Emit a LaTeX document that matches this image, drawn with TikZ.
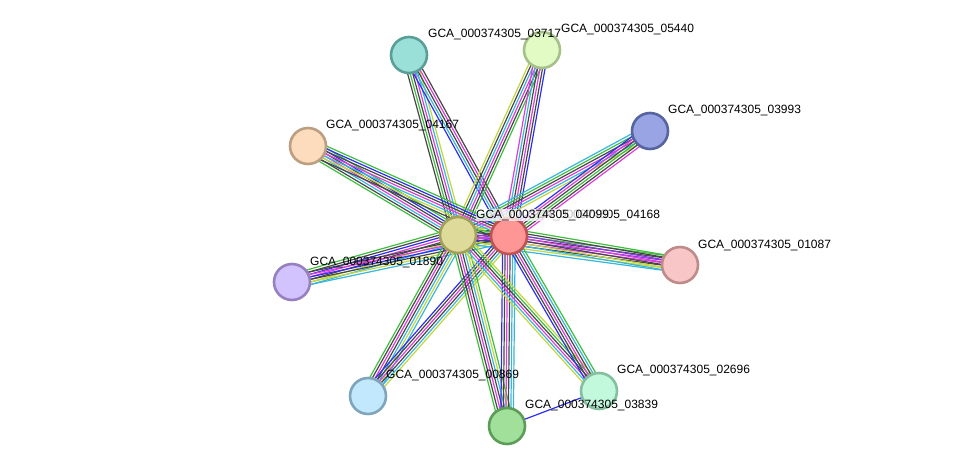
\documentclass[tikz,border=0pt]{standalone}
\usepackage{fontspec}
\setmainfont{Liberation Sans}
\usetikzlibrary{calc}
\pgfdeclarelayer{background}
\pgfsetlayers{background,main}
\definecolor{sgreen}{HTML}{3DBE3D}
\definecolor{sblue}{HTML}{2E2EF2}
\definecolor{smag}{HTML}{DD3DDD}
\definecolor{sdark}{HTML}{474747}
\definecolor{scyan}{HTML}{38B6DC}
\definecolor{syel}{HTML}{C2D73C}
\definecolor{spurp}{HTML}{8A3CE0}
\tikzset{
  x=1pt, y=-1pt,
  prot/.style={circle, minimum size=36pt, inner sep=0pt, line width=2.6pt},
  lbl/.style={anchor=base west, inner sep=0pt, font=\fontsize{12pt}{14pt}\selectfont, text=black},
  edgeline/.style={line width=1.2pt},
}
\newcommand\bundle[4]{%
  \foreach \c [count=\i] in {#4}{%
    \draw[edgeline,\c] let \p1=($(#2.center)-(#1.center)$),
      \n1={atan2(\y1,\x1)+90}, \n2={(\i-(#3+1)/2)*2.5} in
      ($(#1.center)+(\n1:\n2 pt)$) -- ($(#2.center)+(\n1:\n2 pt)$);
  }%
}
\begin{document}
\begin{tikzpicture}
\useasboundingbox (0,0) rectangle (976,471);
% nodes
\node[prot, fill={rgb,255:red,222;green,218;blue,153}, draw={rgb,255:red,163;green,160;blue,90}] (c1) at (458,235) {};
\node[prot, fill={rgb,255:red,255;green,150;blue,150}, draw={rgb,255:red,192;green,82;blue,82}] (c2) at (509,236) {};
\node[prot, fill={rgb,255:red,154;green,224;blue,216}, draw={rgb,255:red,90;green,158;blue,152}] (n03717) at (409,55) {};
\node[prot, fill={rgb,255:red,226;green,250;blue,196}, draw={rgb,255:red,166;green,192;blue,138}] (n05440) at (542,50) {};
\node[prot, fill={rgb,255:red,152;green,164;blue,227}, draw={rgb,255:red,86;green,101;blue,160}] (n03993) at (650,131) {};
\node[prot, fill={rgb,255:red,253;green,219;blue,189}, draw={rgb,255:red,188;green,158;blue,128}] (n04167) at (308,146) {};
\node[prot, fill={rgb,255:red,210;green,194;blue,253}, draw={rgb,255:red,150;green,128;blue,192}] (n01890) at (292,282) {};
\node[prot, fill={rgb,255:red,248;green,198;blue,198}, draw={rgb,255:red,190;green,138;blue,138}] (n01087) at (680,265) {};
\node[prot, fill={rgb,255:red,194;green,232;blue,253}, draw={rgb,255:red,128;green,164;blue,188}] (n00869) at (368,396) {};
\node[prot, fill={rgb,255:red,160;green,224;blue,154}, draw={rgb,255:red,92;green,156;blue,88}] (n03839) at (507,426) {};
\node[prot, fill={rgb,255:red,194;green,248;blue,220}, draw={rgb,255:red,132;green,192;blue,160}] (n02696) at (599,391) {};
% labels
\node[lbl] (l03717) at (428,37.5) {GCA\_000374305\_03717};
\node[lbl] (l05440) at (561,32.5) {GCA\_000374305\_05440};
\node[lbl] (l03993) at (668,113) {GCA\_000374305\_03993};
\node[lbl] (l04167) at (326,128.5) {GCA\_000374305\_04167};
\node[lbl] (l01087) at (698,248) {GCA\_000374305\_01087};
\node[lbl] (l01890) at (310,265) {GCA\_000374305\_01890};
\node[lbl] (l00869) at (386,378.5) {GCA\_000374305\_00869};
\node[lbl] (l03839) at (525,408.5) {GCA\_000374305\_03839};
\node[lbl] (l02696) at (617,373.5) {GCA\_000374305\_02696};
\node[lbl] (l04168) at (527,218) {GCA\_000374305\_04168};
\node[lbl, fill=white, fill opacity=0.75, text opacity=1, inner ysep=1pt] (l04099) at (476,218) {GCA\_000374305\_04099};
% edges
\begin{pgfonlayer}{background}
\bundle{c1}{c2}{7}{sgreen,sblue,sdark,smag,scyan,sdark,syel}
\bundle{c1}{n03717}{6}{syel,scyan,smag,sdark,sgreen,sdark}
\bundle{c2}{n03717}{5}{sdark,smag,sdark,scyan,sblue}
\bundle{c1}{n05440}{6}{sgreen,sdark,smag,scyan,sdark,syel}
\bundle{c2}{n05440}{6}{sblue,sdark,smag,sdark,scyan,smag}
\bundle{c1}{n03993}{6}{syel,scyan,smag,sdark,sgreen,scyan}
\bundle{c2}{n03993}{6}{smag,sdark,sgreen,sdark,smag,sblue}
\bundle{c1}{n04167}{7}{sgreen,sblue,sdark,smag,scyan,sdark,sgreen}
\bundle{c2}{n04167}{7}{sgreen,sblue,sdark,smag,scyan,syel,sdark}
\bundle{c1}{n01890}{7}{sgreen,sdark,sblue,smag,sdark,syel,scyan}
\bundle{c2}{n01890}{6}{sdark,smag,sblue,sdark,syel,scyan}
\bundle{c1}{n01087}{7}{scyan,syel,sdark,smag,spurp,sdark,sgreen}
\bundle{c2}{n01087}{7}{scyan,syel,sdark,smag,spurp,sdark,sgreen}
\bundle{c1}{n00869}{7}{sgreen,sdark,smag,sdark,scyan,syel,scyan}
\bundle{c2}{n00869}{6}{sblue,sdark,smag,sdark,scyan,syel}
\bundle{c1}{n03839}{7}{sgreen,sdark,smag,sdark,scyan,syel,sgreen}
\bundle{c2}{n03839}{6}{sblue,sdark,smag,sdark,scyan,scyan}
\bundle{c1}{n02696}{6}{syel,scyan,smag,sdark,sgreen,syel}
\bundle{c2}{n02696}{6}{sblue,sdark,smag,sdark,scyan,sgreen}
\draw[edgeline,sblue] (n03839.center) -- (n02696.center);
\end{pgfonlayer}
\end{tikzpicture}
\end{document}
